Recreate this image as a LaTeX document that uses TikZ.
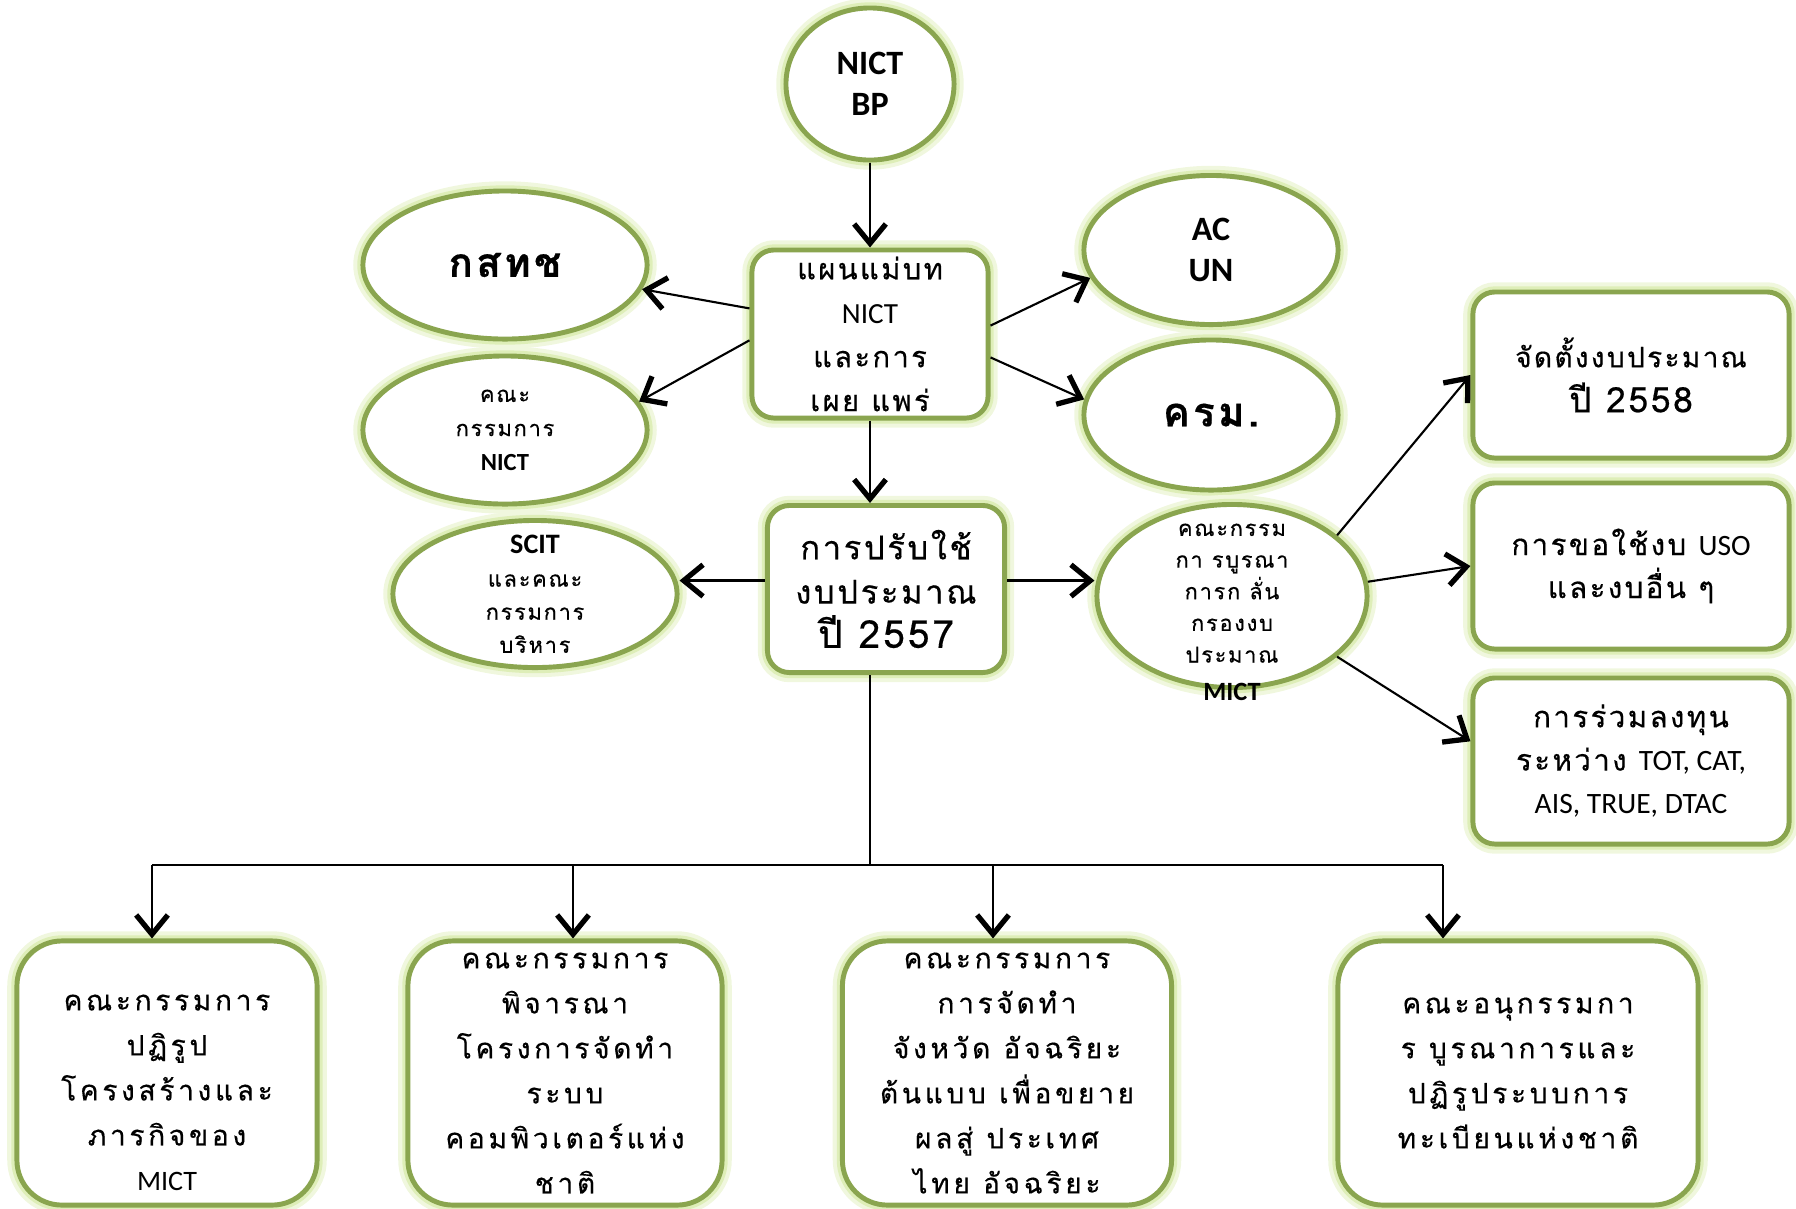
\documentclass[tikz,border=0pt]{standalone}
\usepackage{fontspec}
\setmainfont{Carlito}
\newfontfamily\thaifam[Script=Thai,LetterSpace=8,FakeBold=0.4]{Loma}
\newfontfamily\thaiwide[Script=Thai,LetterSpace=13,FakeBold=0.4]{Loma}
\usetikzlibrary{shapes.geometric,arrows.meta}
\definecolor{edgegreen}{HTML}{8AA54F}
\definecolor{glowgreen}{HTML}{D3E8A0}

\begin{document}
\begin{tikzpicture}[x=0.01cm,y=-0.01cm,line width=0.6pt,>={Straight Barb[length=5.5pt,width=9pt,line width=1.5pt]},
glow/.style={preaction={draw=glowgreen!35,line width=5.5pt},preaction={draw=glowgreen!75,line width=3.2pt}},
oval/.style={ellipse,draw=edgegreen,line width=1.4pt,fill=white,glow,inner sep=0pt,align=center},
box/.style={rectangle,rounded corners=0.22cm,draw=edgegreen,line width=1.4pt,fill=white,glow,inner sep=0pt,align=center},
bigbox/.style={box,rounded corners=0.45cm,minimum height=2.64cm,font=\fontsize{8}{12.8}\selectfont\thaiwide},
sidebox/.style={box,minimum width=3.16cm,minimum height=1.66cm},]
\useasboundingbox (0,0) rectangle (1796,1208);
\node (bp) at (870,84)[oval,minimum width=1.68cm,minimum height=1.52cm,font=\fontsize{9.7}{11.7}\selectfont\bfseries] {NICT\\BP};
\node (plan) at (870,334)[box,minimum width=2.36cm,minimum height=1.68cm,font=\fontsize{8.3}{12.5}\selectfont\thaifam] {แผนแม่บท\\{\rmfamily NICT}\\และการ\\เผย แพร่};
\node (ntc) at (505,265)[oval,minimum width=2.84cm,minimum height=1.48cm,font=\fontsize{11.5}{14}\selectfont\thaifam\bfseries] {กสทช};
\node (nictc) at (505,430)[oval,minimum width=2.84cm,minimum height=1.48cm,label={[align=center,font=\fontsize{6.2}{9.7}\selectfont\thaifam]center:{คณะ\\กรรมการ\\{\rmfamily\bfseries\fontsize{7}{9.7}\selectfont NICT}}}] {};
\node (scit) at (535,594)[oval,minimum width=2.84cm,minimum height=1.47cm,label={[align=center,font=\fontsize{6.2}{9.4}\selectfont\thaifam]center:{{\rmfamily\bfseries\fontsize{8}{9.4}\selectfont SCIT}\\และคณะ\\กรรมการ\\บริหาร}}] {};
\node (acun) at (1211,250)[oval,minimum width=2.54cm,minimum height=1.49cm,font=\fontsize{9.7}{11.9}\selectfont\bfseries] {AC\\UN};
\node (cab) at (1211,415)[oval,minimum width=2.54cm,minimum height=1.5cm,font=\fontsize{11.5}{14}\selectfont\thaifam\bfseries] {ครม.};
\node (b57) at (886,589)[box,minimum width=2.37cm,minimum height=1.67cm,font=\fontsize{9.3}{12.6}\selectfont\thaifam] {การปรับใช้\\งบประมาณ\\{\fontsize{11}{12.6}\selectfont ปี 2557}};
\node (mict) at (1232,596)[oval,minimum width=2.7cm,minimum height=1.83cm,label={[yshift=-0.16cm,align=center,font=\fontsize{6.2}{9}\selectfont\thaifam]center:{คณะกรรม\\กา รบูรณา\\การก ลั่น\\กรองงบ\\ประมาณ\\[0.06cm]{\rmfamily\bfseries\fontsize{7.5}{9}\selectfont MICT}}}] {};
\node (b58) at (1631,375)[sidebox,font=\fontsize{8}{12.8}\selectfont\thaifam] {จัดตั้งงบประมาณ\\{\fontsize{10}{12.8}\selectfont ปี 2558}};
\node (uso) at (1631,566)[sidebox,font=\fontsize{8.4}{12.2}\selectfont\thaifam] {การขอใช้งบ {\rmfamily USO}\\และงบอื่น ๆ};
\node (inv) at (1631,761)[sidebox,font=\fontsize{8.4}{12.3}\selectfont\thaifam] {การร่วมลงทุน\\ระหว่าง {\rmfamily TOT, CAT,}\\{\rmfamily AIS, TRUE, DTAC}};
\node (reform) at (167,1073)[bigbox,minimum width=3cm] {\rule{0pt}{0.55cm}คณะกรรมการ\\ปฏิรูป\\โครงสร้างและ\\ภารกิจของ\\{\rmfamily MICT}};
\node (comp) at (565,1073)[bigbox,minimum width=3.14cm] {คณะกรรมการ\\พิจารณา\\โครงการจัดทำ\\ระบบ\\คอมพิวเตอร์แห่ง\\ชาติ};
\node (smart) at (1007,1073)[bigbox,minimum width=3.29cm] {คณะกรรมการ\\การจัดทำ\\จังหวัด อัจฉริยะ\\ต้นแบบ เพื่อขยาย\\ผลสู่ ประเทศ\\ไทย อัจฉริยะ};
\node (reg) at (1518,1073)[bigbox,minimum width=3.6cm] {คณะอนุกรรมกา\\ร บูรณาการและ\\ปฏิรูประบบการ\\ทะเบียนแห่งชาติ};
\coordinate (bus) at (870,865);
\coordinate (j1) at (152,865);
\coordinate (j2) at (573,865);
\coordinate (j3) at (993,865);
\coordinate (j4) at (1443,865);
\draw[->] (bp)--(plan);
\draw[->] (plan.168)--(ntc.-10);
\draw[->] (plan.183)--(nictc.12);
\draw[->] (plan.4)--(acun.193);
\draw[->] (plan.-11)--(cab.173);
\draw[->] (plan.south)--(plan.south |- b57.north);
\draw[->] (b57.176)--(b57.176 -| scit.east);
\draw[->] (b57.4)--(b57.4 -| mict.west);
\draw[->] (mict.30)--(b58.west);
\draw[->] (mict.6)--(uso.west);
\draw[->] (mict.-30)--(inv.173);
\draw (b57.south -| bus)--(bus);
\draw (j1)--(j4);
\draw[->] (j1)--(j1 |- reform.north);
\draw[->] (j2)--(j2 |- comp.north);
\draw[->] (j3)--(j3 |- smart.north);
\draw[->] (j4)--(j4 |- reg.north);
\end{tikzpicture}
\end{document}
